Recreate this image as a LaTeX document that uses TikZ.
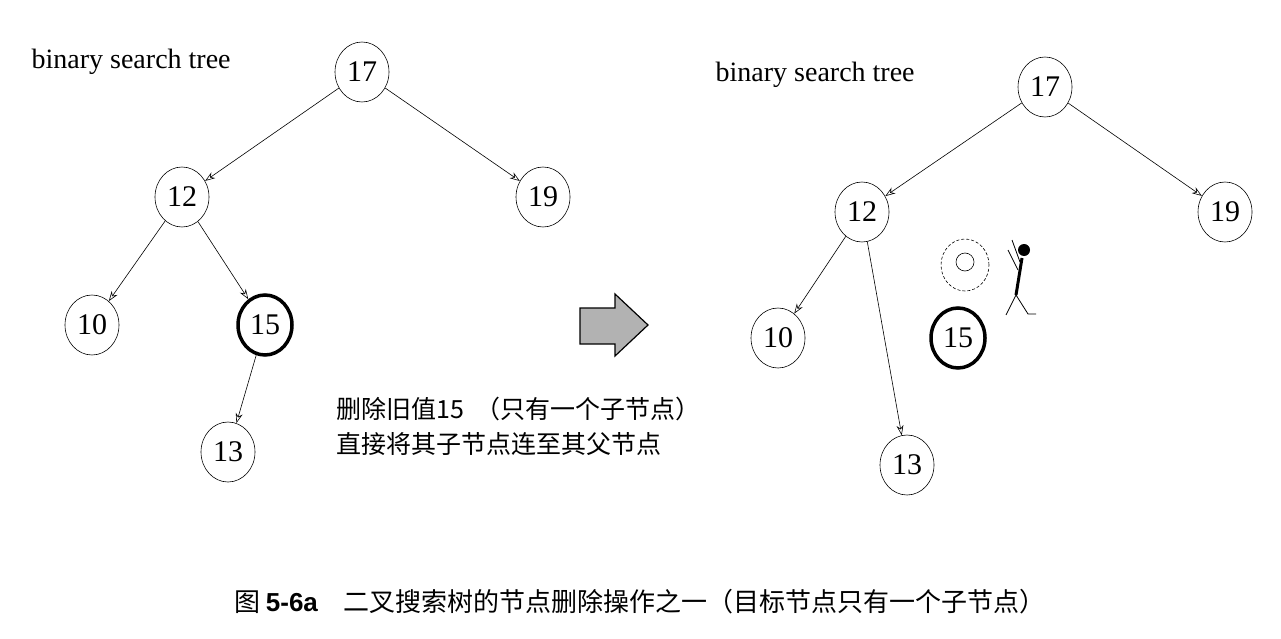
\documentclass[tikz,border=0pt]{standalone}
\usepackage{fontspec}
\setmainfont{Liberation Serif}
\newfontfamily\cjk{Noto Sans CJK SC}
\newfontfamily\capsans{Liberation Sans}
\usetikzlibrary{arrows.meta, shapes.geometric}

\begin{document}
\begin{tikzpicture}[
x = 1pt, y = -1pt,
> = {Stealth[length=10pt, width=7pt, open]}, % arrow head style
semithick, % line style
key/.style = {draw = black, ellipse, minimum width = 54pt, minimum height = 60pt, inner sep = 0pt, font = \fontsize{30}{32}\selectfont},
target/.style = {key, line width = 3.5pt},
label/.style = {font = \fontsize{28}{30}\selectfont, anchor = west},
note/.style = {font = \cjk\fontsize{25}{35}\selectfont, align = left, anchor = north west}
]
\useasboundingbox (0,0) rectangle (1281,639);
% before deletion
\node[key] (a17) at (362,72) {17};
\node[key] (a12) at (182,197) {12};
\node[key] (a19) at (543,197) {19};
\node[key] (a10) at (92,325) {10};
\node[target] (a15) at (265,325) {15};
\node[key] (a13) at (228,452) {13};
\node[label] (atitle) at (28,62) {binary search tree};
\draw[->] (a17) -- (a12);
\draw[->] (a17) -- (a19);
\draw[->] (a12) -- (a10);
\draw[->] (a12) -- (a15);
\draw[->] (a15) -- (a13);
% the big arrow
\draw[very thick, fill = gray!60] (580,308) -- (615,308) -- (615,294) -- (648,325)
  -- (615,356) -- (615,344) -- (580,344) -- cycle;
\node[note] (text) at (333,393) {删除旧值15\ \ （只有一个子节点）\\直接将其子节点连至其父节点};
% after deletion
\node[key] (b17) at (1045,87) {17};
\node[key] (b12) at (862,212) {12};
\node[key] (b19) at (1225,212) {19};
\node[key] (b10) at (778,338) {10};
\node[target] (b15) at (958,338) {15};
\node[key] (b13) at (907,465) {13};
\node[label] (btitle) at (712,75) {binary search tree};
\draw[->] (b17) -- (b12);
\draw[->] (b17) -- (b19);
\draw[->] (b12) -- (b10);
\draw[->] (b12) -- (b13);
% cartoon
\draw[densely dashed] (965,265) circle[x radius=24pt, y radius=26pt];
\draw (965,262) circle[radius=9pt];
\draw[line width=3pt] (1022,258) -- (1016,295);
\fill (1024,250) circle[radius=6pt];
\draw[thick] (1020,262) -- (1012,240) (1018,270) -- (1008,250);
\draw[thick] (1016,295) -- (1006,315) (1016,295) -- (1028,314) -- (1036,314);
% caption
\node (caption) at (640,602) {\cjk\fontsize{26}{28}\selectfont 图 {\capsans\bfseries 5-6a}\quad 二叉搜索树的节点删除操作之一（目标节点只有一个子节点）};
\end{tikzpicture}
\end{document}
